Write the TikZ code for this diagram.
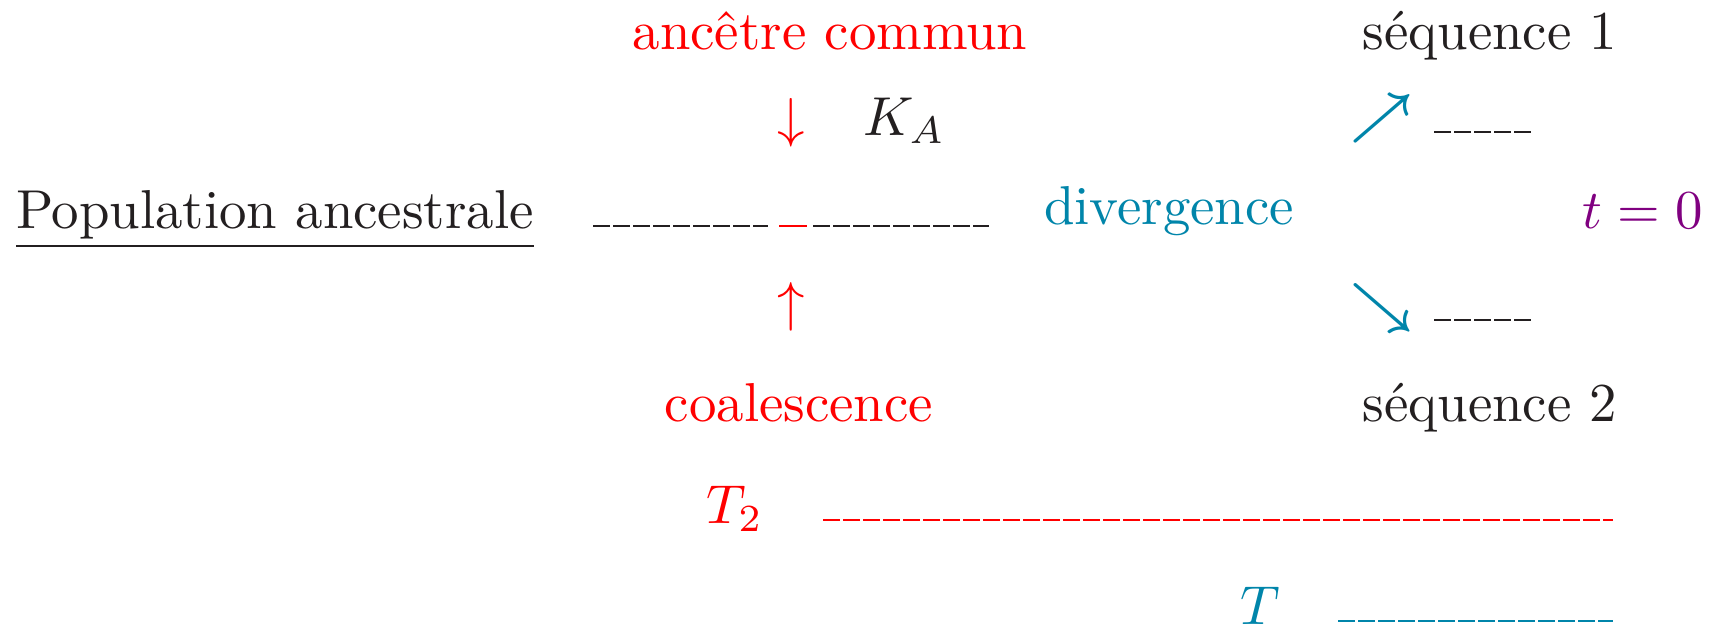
\documentclass[tikz,border=0pt]{standalone}
\usepackage{fontspec}
\usepackage{amsmath}
\usepackage{tikz}

\definecolor{encre}{RGB}{35,31,32}
\definecolor{bleu}{RGB}{0,133,170}
\definecolor{pourpre}{RGB}{128,0,128}

\begin{document}
\begin{tikzpicture}[x=0.0641mm, y=-0.0641mm,
  every node/.style={inner sep=0pt, text=encre},
  tirets/.style={line width=0.48pt, dash pattern=on 3.05pt off 0.6pt}]
\useasboundingbox (0,0) rectangle (1717,627);

% --- top: common ancestor ---
\node[anchor=base, text=red] (ancetre) at (830,50) {ancêtre commun};
\node[anchor=base] (seq1) at (1490,50) {séquence 1};
\node[text=red] (bas) at (791,123) {$\downarrow$};
\node[anchor=base west] (ka) at (862,135) {$K_A$};
\node[text=bleu] (div1) at (1382,119) {$\boldsymbol{\nearrow}$};

% --- middle: ancestral population ---
\node[anchor=base west] (pop) at (15,228) {\underline{Population ancestrale}};
\node[anchor=base, text=bleu] (divergence) at (1169,224) {divergence};
\node[anchor=base east, text=pourpre] (t0) at (1704,228) {$t=0$};

\coordinate (g0) at (593,226);
\coordinate (g1) at (768,226);
\coordinate (r0) at (779,226);
\coordinate (r1) at (807,226);
\coordinate (d0) at (813,226);
\coordinate (d1) at (989,226);
\draw[tirets, encre] (g0) -- (g1);
\draw[line width=0.48pt, red] (r0) -- (r1);
\draw[tirets, encre] (d0) -- (d1);

% --- two sequences ---
\coordinate (s1a) at (1434,132);
\coordinate (s1b) at (1531,132);
\coordinate (s2a) at (1434,320);
\coordinate (s2b) at (1531,320);
\draw[tirets, encre] (s1a) -- (s1b);
\draw[tirets, encre] (s2a) -- (s2b);

% --- bottom: coalescence ---
\node[text=red] (haut) at (791,307) {$\uparrow$};
\node[text=bleu] (div2) at (1382,308) {$\boldsymbol{\searrow}$};
\node[anchor=base, text=red] (coal) at (799,421) {coalescence};
\node[anchor=base] (seq2) at (1490,421) {séquence 2};

% --- times ---
\node[anchor=base, text=red] (t2) at (735,523) {$T_2$};
\coordinate (t2a) at (823,520);
\coordinate (t2b) at (1613,520);
\draw[tirets, red] (t2a) -- (t2b);

\node[anchor=base, text=bleu] (tt) at (1260,624) {$T$};
\coordinate (ta) at (1338,621);
\coordinate (tb) at (1613,621);
\draw[tirets, bleu] (ta) -- (tb);
\end{tikzpicture}
\end{document}
